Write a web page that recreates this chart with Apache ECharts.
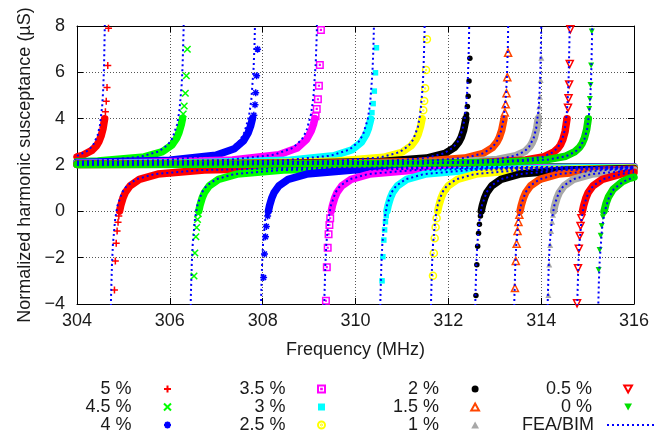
<!DOCTYPE html>
<html><head><meta charset="utf-8">
<script src="https://cdn.jsdelivr.net/npm/echarts@6/dist/echarts.min.js"></script>
<style>html,body{margin:0;padding:0;background:#fff}#c{width:662px;height:436px}</style>
</head><body><div id="c"></div>
<script>
// ---------------- data (frequency MHz, normalized susceptance µS) ----------------
const labels = ['5 %','4.5 %','4 %','3.5 %','3 %','2.5 %','2 %','1.5 %','1 %','0.5 %','0 %'];
const feaLabel = 'FEA/BIM';
const xTicks = [304,306,308,310,312,314,316];
const yTicks = [-4,-2,0,2,4,6,8];

// measured, branch below (L) and above (R) each resonance
const s50L = [[304.000,2.35],[304.122,2.42],[304.322,2.63],[304.422,2.84],[304.472,3.01],[304.522,3.27],[304.560,3.56],[304.596,4.00],[304.612,4.30],[304.630,4.75],[304.647,5.35],[304.663,6.30],[304.679,7.90]];
const s50R = [[304.807,-3.40],[304.826,-2.14],[304.845,-1.38],[304.864,-0.85],[304.884,-0.47],[304.901,-0.20],[304.918,0.01],[304.943,0.25],[304.993,0.59],[305.043,0.82],[305.143,1.10],[305.343,1.38],[305.743,1.61],[306.743,1.78],[308.743,1.87],[312.743,1.91],[316.000,1.92]];
const s45L = [[304.000,2.14],[304.447,2.17],[305.447,2.35],[305.847,2.58],[306.047,2.87],[306.147,3.16],[306.197,3.40],[306.247,3.75],[306.272,4.00],[306.288,4.20],[306.310,4.55],[306.334,5.10],[306.356,5.85],[306.377,7.00]];
const s45R = [[306.521,-2.79],[306.540,-1.80],[306.561,-1.10],[306.577,-0.70],[306.597,-0.35],[306.612,-0.10],[306.624,0.01],[306.649,0.25],[306.699,0.59],[306.749,0.82],[306.849,1.10],[307.049,1.38],[307.449,1.61],[308.449,1.78],[310.449,1.87],[314.449,1.91],[316.000,1.91]];
const s40L = [[304.000,2.11],[305.990,2.21],[306.990,2.42],[307.390,2.70],[307.590,3.05],[307.690,3.40],[307.740,3.68],[307.780,4.00],[307.810,4.15],[307.835,4.60],[307.850,5.12],[307.870,5.85],[307.890,7.00]];
const s40R = [[308.020,-2.86],[308.039,-1.84],[308.061,-1.10],[308.080,-0.65],[308.107,-0.20],[308.124,0.01],[308.149,0.25],[308.199,0.59],[308.249,0.82],[308.349,1.10],[308.549,1.38],[308.949,1.61],[309.949,1.78],[311.949,1.87],[316.000,1.91]];
const s35L = [[304.000,2.08],[305.345,2.11],[307.345,2.22],[308.345,2.44],[308.745,2.73],[308.945,3.10],[309.045,3.47],[309.095,3.76],[309.125,4.00],[309.140,4.10],[309.165,4.42],[309.190,4.84],[309.212,5.42],[309.232,6.32],[309.255,7.83]];
const s35R = [[309.363,-3.86],[309.382,-2.41],[309.401,-1.57],[309.420,-0.99],[309.438,-0.59],[309.455,-0.30],[309.479,0.01],[309.504,0.25],[309.554,0.59],[309.604,0.82],[309.704,1.10],[309.904,1.38],[310.304,1.61],[311.304,1.78],[313.304,1.87],[316.000,1.90]];
const s30L = [[304.000,2.06],[306.529,2.10],[308.529,2.20],[309.529,2.40],[309.929,2.66],[310.129,2.99],[310.229,3.32],[310.279,3.58],[310.329,3.98],[310.354,4.26],[310.380,4.65],[310.405,5.19],[310.430,5.98],[310.451,7.06]];
const s30R = [[310.572,-3.00],[310.590,-1.96],[310.610,-1.24],[310.627,-0.80],[310.645,-0.45],[310.662,-0.19],[310.678,0.01],[310.703,0.25],[310.753,0.59],[310.803,0.82],[310.903,1.10],[311.103,1.38],[311.503,1.61],[312.503,1.78],[314.503,1.87],[316.000,1.89]];
const s25L = [[304.000,2.04],[307.600,2.08],[309.600,2.17],[310.600,2.33],[311.000,2.55],[311.200,2.83],[311.300,3.10],[311.350,3.32],[311.400,3.65],[311.435,4.00],[311.460,4.36],[311.480,4.76],[311.500,5.31],[311.520,6.10],[311.539,7.43]];
const s25R = [[311.669,-2.78],[311.687,-1.81],[311.706,-1.16],[311.726,-0.69],[311.748,-0.30],[311.772,0.01],[311.797,0.25],[311.847,0.59],[311.897,0.82],[311.997,1.10],[312.197,1.38],[312.597,1.61],[313.597,1.78],[316.000,1.87]];
const s20L = [[304.000,2.04],[308.529,2.08],[310.529,2.15],[311.529,2.30],[311.929,2.50],[312.129,2.75],[312.229,3.00],[312.279,3.20],[312.329,3.50],[312.379,4.00],[312.392,4.19],[312.410,4.52],[312.428,4.97],[312.446,5.63],[312.464,6.61]];
const s20R = [[312.595,-3.63],[312.614,-2.31],[312.632,-1.51],[312.651,-0.95],[312.670,-0.56],[312.692,-0.20],[312.709,0.01],[312.734,0.25],[312.784,0.59],[312.834,0.82],[312.934,1.10],[313.134,1.38],[313.534,1.61],[314.534,1.78],[316.000,1.85]];
const s15L = [[304.000,2.03],[305.350,2.04],[309.350,2.08],[311.350,2.15],[312.350,2.30],[312.750,2.50],[312.950,2.75],[313.050,3.00],[313.100,3.20],[313.150,3.50],[313.200,4.00],[313.218,4.27],[313.236,4.62],[313.253,5.10],[313.271,5.79],[313.288,6.85]];
const s15R = [[313.435,-3.31],[313.453,-2.14],[313.472,-1.40],[313.491,-0.85],[313.511,-0.46],[313.530,-0.15],[313.545,0.01],[313.570,0.25],[313.620,0.59],[313.670,0.82],[313.770,1.10],[313.970,1.38],[314.370,1.61],[315.370,1.78],[316.000,1.82]];
const s10L = [[304.000,2.02],[306.054,2.03],[310.054,2.06],[312.054,2.12],[313.054,2.24],[313.454,2.40],[313.654,2.59],[313.754,2.79],[313.804,2.95],[313.854,3.19],[313.904,3.58],[313.936,4.00],[313.949,4.25],[313.960,4.52],[313.974,4.95],[313.989,5.67],[314.003,6.63]];
const s10R = [[314.155,-3.61],[314.174,-2.30],[314.194,-1.45],[314.215,-0.85],[314.236,-0.45],[314.255,-0.15],[314.269,0.01],[314.294,0.25],[314.344,0.59],[314.394,0.82],[314.494,1.10],[314.694,1.38],[315.094,1.61],[316.000,1.77]];
const s05L = [[304.000,2.02],[306.666,2.03],[310.666,2.06],[312.666,2.11],[313.666,2.22],[314.066,2.36],[314.266,2.55],[314.366,2.73],[314.416,2.87],[314.466,3.09],[314.516,3.45],[314.557,4.00],[314.578,4.47],[314.590,4.88],[314.603,5.48],[314.616,6.36],[314.629,7.86]];
const s05R = [[314.773,-3.97],[314.793,-2.46],[314.811,-1.62],[314.829,-1.06],[314.848,-0.63],[314.867,-0.30],[314.891,0.01],[314.916,0.25],[314.966,0.59],[315.016,0.82],[315.116,1.10],[315.316,1.38],[315.716,1.61],[316.000,1.69]];
const s00L = [[304.000,2.02],[307.130,2.03],[311.130,2.06],[313.130,2.12],[314.130,2.23],[314.530,2.38],[314.730,2.58],[314.830,2.77],[314.880,2.92],[314.930,3.15],[314.980,3.53],[315.015,4.00],[315.035,4.42],[315.049,4.85],[315.063,5.45],[315.076,6.29],[315.090,7.76]];
const s00R = [[315.238,-2.53],[315.260,-1.67],[315.282,-1.05],[315.304,-0.63],[315.331,-0.25],[315.354,0.00],[315.399,0.35],[315.449,0.62],[315.549,0.95],[315.749,1.28],[315.899,1.42],[316.000,1.48]];

// FEA/BIM curves
const e50L = [[304.000,2.39],[304.242,2.63],[304.342,2.84],[304.442,3.27],[304.492,3.69],[304.542,4.53],[304.562,5.16],[304.582,6.22],[304.602,8.33],[304.617,12.12],[304.627,18.87]];
const e50R = [[304.688,-20.7],[304.698,-11.65],[304.713,-6.55],[304.733,-3.72],[304.753,-2.30],[304.773,-1.45],[304.823,-0.32],[304.873,0.25],[304.973,0.82],[305.073,1.10],[305.273,1.38],[305.673,1.61],[306.673,1.78],[308.673,1.87],[312.673,1.91],[316.000,1.92]];
const e45L = [[304.000,2.15],[304.356,2.17],[305.356,2.35],[305.756,2.58],[305.956,2.87],[306.056,3.16],[306.156,3.75],[306.206,4.33],[306.256,5.49],[306.276,6.36],[306.296,7.82],[306.316,10.73],[306.331,15.96]];
const e45R = [[306.407,-20.7],[306.417,-11.65],[306.432,-6.55],[306.452,-3.72],[306.472,-2.30],[306.492,-1.45],[306.542,-0.32],[306.592,0.25],[306.692,0.82],[306.792,1.10],[306.992,1.38],[307.392,1.61],[308.392,1.78],[310.392,1.87],[314.392,1.91],[316.000,1.91]];
const e40L = [[304.000,2.11],[305.905,2.21],[306.905,2.42],[307.305,2.70],[307.505,3.05],[307.605,3.40],[307.705,4.10],[307.755,4.80],[307.805,6.20],[307.825,7.25],[307.845,9.00],[307.865,12.50]];
const e40R = [[307.922,-20.7],[307.932,-11.65],[307.947,-6.55],[307.967,-3.72],[307.987,-2.30],[308.007,-1.45],[308.057,-0.32],[308.107,0.25],[308.207,0.82],[308.307,1.10],[308.507,1.38],[308.907,1.61],[309.907,1.78],[311.907,1.87],[316.000,1.91]];
const e35L = [[304.000,2.08],[305.243,2.11],[307.243,2.22],[308.243,2.44],[308.643,2.73],[308.843,3.10],[308.943,3.47],[309.043,4.20],[309.093,4.93],[309.143,6.40],[309.163,7.50],[309.183,9.33],[309.203,13.00]];
const e35R = [[309.285,-20.7],[309.295,-11.65],[309.310,-6.55],[309.330,-3.72],[309.350,-2.30],[309.370,-1.45],[309.420,-0.32],[309.470,0.25],[309.570,0.82],[309.670,1.10],[309.870,1.38],[310.270,1.61],[311.270,1.78],[313.270,1.87],[316.000,1.90]];
const e30L = [[304.000,2.06],[306.464,2.10],[308.464,2.20],[309.464,2.40],[309.864,2.66],[310.064,2.99],[310.164,3.32],[310.264,3.98],[310.314,4.63],[310.364,5.95],[310.384,6.94],[310.404,8.58],[310.424,11.90]];
const e30R = [[310.492,-20.7],[310.502,-11.65],[310.517,-6.55],[310.537,-3.72],[310.557,-2.30],[310.577,-1.45],[310.627,-0.32],[310.677,0.25],[310.777,0.82],[310.877,1.10],[311.077,1.38],[311.477,1.61],[312.477,1.78],[314.477,1.87],[316.000,1.89]];
const e25L = [[304.000,2.04],[307.545,2.08],[309.545,2.17],[310.545,2.33],[310.945,2.55],[311.145,2.83],[311.245,3.10],[311.345,3.65],[311.395,4.20],[311.445,5.30],[311.465,6.13],[311.485,7.50],[311.505,10.25],[311.520,15.20]];
const e25R = [[311.584,-20.7],[311.594,-11.65],[311.609,-6.55],[311.629,-3.72],[311.649,-2.30],[311.669,-1.45],[311.719,-0.32],[311.769,0.25],[311.869,0.82],[311.969,1.10],[312.169,1.38],[312.569,1.61],[313.569,1.78],[316.000,1.87]];
const e20L = [[304.000,2.04],[308.501,2.08],[310.501,2.15],[311.501,2.30],[311.901,2.50],[312.101,2.75],[312.201,3.00],[312.301,3.50],[312.351,4.00],[312.401,5.00],[312.421,5.75],[312.441,7.00],[312.461,9.50],[312.476,14.00]];
const e20R = [[312.538,-20.7],[312.548,-11.65],[312.563,-6.55],[312.583,-3.72],[312.603,-2.30],[312.623,-1.45],[312.673,-0.32],[312.723,0.25],[312.823,0.82],[312.923,1.10],[313.123,1.38],[313.523,1.61],[314.523,1.78],[316.000,1.85]];
const e15L = [[304.000,2.03],[305.341,2.04],[309.341,2.08],[311.341,2.15],[312.341,2.30],[312.741,2.50],[312.941,2.75],[313.041,3.00],[313.141,3.50],[313.191,4.00],[313.241,5.00],[313.261,5.75],[313.281,7.00],[313.301,9.50],[313.316,14.00]];
const e15R = [[313.378,-20.7],[313.388,-11.65],[313.403,-6.55],[313.423,-3.72],[313.443,-2.30],[313.463,-1.45],[313.513,-0.32],[313.563,0.25],[313.663,0.82],[313.763,1.10],[313.963,1.38],[314.363,1.61],[315.363,1.78],[316.000,1.82]];
const e10L = [[304.000,2.02],[306.042,2.03],[310.042,2.06],[312.042,2.12],[313.042,2.24],[313.442,2.40],[313.642,2.59],[313.742,2.79],[313.842,3.19],[313.892,3.58],[313.942,4.37],[313.962,4.96],[313.982,5.95],[314.002,7.93],[314.017,11.48],[314.027,17.80]];
const e10R = [[314.098,-20.7],[314.108,-11.65],[314.123,-6.55],[314.143,-3.72],[314.163,-2.30],[314.183,-1.45],[314.233,-0.32],[314.283,0.25],[314.383,0.82],[314.483,1.10],[314.683,1.38],[315.083,1.61],[316.000,1.77]];
const e05L = [[304.000,2.02],[306.650,2.03],[310.650,2.06],[312.650,2.11],[313.650,2.22],[314.050,2.36],[314.250,2.55],[314.350,2.73],[314.450,3.09],[314.500,3.45],[314.550,4.18],[314.570,4.73],[314.590,5.63],[314.610,7.45],[314.625,10.72],[314.635,16.50]];
const e05R = [[314.736,-20.7],[314.746,-11.65],[314.761,-6.55],[314.781,-3.72],[314.801,-2.30],[314.821,-1.45],[314.871,-0.32],[314.921,0.25],[315.021,0.82],[315.121,1.10],[315.321,1.38],[315.721,1.61],[316.000,1.68]];
const e00L = [[304.000,2.02],[307.138,2.03],[311.138,2.06],[313.138,2.12],[314.138,2.23],[314.538,2.38],[314.738,2.58],[314.838,2.77],[314.938,3.15],[314.988,3.53],[315.038,4.30],[315.058,4.88],[315.078,5.83],[315.098,7.75],[315.113,11.20],[315.123,17.30]];
const e00R = [[315.178,-24.7],[315.188,-14.05],[315.203,-8.05],[315.223,-4.72],[315.243,-3.05],[315.263,-2.05],[315.313,-0.72],[315.363,-0.05],[315.463,0.62],[315.563,0.95],[315.763,1.28],[316.000,1.47]];

// ---------------- styles ----------------
const FONT = '"Liberation Sans", Arial, Helvetica, sans-serif';
const TXT = '#1a1a1a';
const colors = ['#ff0000','#00ff00','#0000ff','#ff00ff','#00ffff','#ffff00','#000000','#ff4500','#a8a8a8','#ff0000','#00e000'];
const SYM = {
  plus:'path://M0,5L10,5M5,0L5,10',
  cross:'path://M0,0L10,10M10,0L0,10',
  star:'path://M0,5L10,5M5,0L5,10M1.5,1.5L8.5,8.5M8.5,1.5L1.5,8.5',
  sqdot:'path://M0,0L10,0L10,10L0,10ZM4.5,4.5L5.5,4.5L5.5,5.5L4.5,5.5Z',
  square:'path://M0,0L10,0L10,10L0,10Z',
  circdot:'path://M10,5A5,5,0,1,1,0,5A5,5,0,1,1,10,5ZM5.6,5A0.6,0.6,0,1,1,4.4,5A0.6,0.6,0,1,1,5.6,5Z',
  circle:'path://M10,5A5,5,0,1,1,0,5A5,5,0,1,1,10,5Z',
  tri:'path://M5,0L10,9L0,9Z',
  dtri:'path://M0,0L10,0L5,9Z'
};
const symbols = [SYM.plus,SYM.cross,SYM.star,SYM.sqdot,SYM.square,SYM.circdot,SYM.circle,SYM.tri,SYM.tri,SYM.dtri,SYM.dtri];
const sizes   = [7,6.5,7,6.5,5.5,7,5.5,7,6,7,6];
const hollow  = [false,false,false,true,false,true,false,true,false,true,false];
const strokeW = [1.5,1.5,1.5,1.5,0,1.5,0,1.5,0,1.5,0];

const measured = [[s50L,s50R],[s45L,s45R],[s40L,s40R],[s35L,s35R],[s30L,s30R],[s25L,s25R],[s20L,s20R],[s15L,s15R],[s10L,s10R],[s05L,s05R],[s00L,s00R]];
const fea = [[e50L,e50R],[e45L,e45R],[e40L,e40R],[e35L,e35R],[e30L,e30R],[e25L,e25R],[e20L,e20R],[e15L,e15R],[e10L,e10R],[e05L,e05R],[e00L,e00R]];

const series = [];
labels.forEach((name, i) => {
  const [L, R] = measured[i];
  // isolated markers near the resonance; the dense flat parts are drawn as a thick band
  series.push({
    type:'scatter', name, data: L.filter(p => p[1] > 4.05).concat(R.filter(p => p[1] < -0.05)),
    symbol: symbols[i], symbolSize: sizes[i],
    itemStyle:{color: hollow[i] ? 'rgba(0,0,0,0)' : colors[i], borderColor: colors[i], borderWidth: strokeW[i], opacity:1},
    silent:true, z:2
  });
  const bandStyle = {color: colors[i], width: 7.5, cap:'round', join:'round'};
  series.push({type:'line', name, data: L.filter(p => p[1] <= 4.05), symbol:'none', showSymbol:false, lineStyle: bandStyle, silent:true, z:2});
  series.push({type:'line', name, data: R.filter(p => p[1] >= -0.05), symbol:'none', showSymbol:false, lineStyle: bandStyle, silent:true, z:2});
});
fea.forEach(([L, R]) => {
  [L, R].forEach(d => series.push({
    type:'line', name: feaLabel, data: d, symbol:'none', showSymbol:false,
    lineStyle:{color:'#0000ff', width:2, type:[2,3]}, silent:true, z:3
  }));
});

const legendCommon = {
  orient:'vertical', align:'right', itemWidth:62, itemHeight:7, itemGap:0, padding:0,
  selectedMode:false, textStyle:{fontSize:18, color:TXT, fontFamily:FONT}
};
const fmtY = v => v < 0 ? '\u2212' + (-v) : String(v);
const axisBase = {
  axisLine:{show:true, onZero:false, lineStyle:{color:'#000', width:1}},
  axisTick:{show:true, inside:true, length:6, lineStyle:{color:'#000', width:1}}
};

const chart = echarts.init(document.getElementById('c'), null, {renderer:'canvas'});
chart.setOption({
  animation:false,
  backgroundColor:'#ffffff',
  textStyle:{fontFamily:FONT},
  grid:{left:77, right:28, top:26, bottom:132, outerBoundsMode:'none', containLabel:false},
  xAxis:[
    Object.assign({type:'value', min:xTicks[0], max:xTicks[xTicks.length-1], interval:2, position:'bottom',
      axisLabel:{show:true, fontSize:18, color:TXT, margin:8, fontFamily:FONT},
      splitLine:{show:true, lineStyle:{color:'#555', width:1, type:[1,2]}},
      name:'Frequency (MHz)', nameLocation:'middle', nameGap:37,
      nameTextStyle:{fontSize:18, color:TXT, fontFamily:FONT}}, axisBase),
    Object.assign({type:'value', min:xTicks[0], max:xTicks[xTicks.length-1], interval:2, position:'top',
      axisLabel:{show:false}, splitLine:{show:false}}, axisBase)
  ],
  yAxis:[
    Object.assign({type:'value', min:yTicks[0], max:yTicks[yTicks.length-1], interval:2, position:'left',
      axisLabel:{show:true, fontSize:18, color:TXT, margin:12, fontFamily:FONT, formatter:fmtY},
      splitLine:{show:true, lineStyle:{color:'#555', width:1, type:[1,2]}},
      name:'Normalized harmonic susceptance (\u00b5S)', nameLocation:'middle', nameGap:43, nameRotate:90,
      nameTextStyle:{fontSize:18, color:TXT, fontFamily:FONT}}, axisBase),
    Object.assign({type:'value', min:yTicks[0], max:yTicks[yTicks.length-1], interval:2, position:'right',
      axisLabel:{show:false}, splitLine:{show:false}}, axisBase)
  ],
  legend:[
    Object.assign({}, legendCommon, {data:labels.slice(0,3), right:490, top:380}),
    Object.assign({}, legendCommon, {data:labels.slice(3,6), right:336, top:380}),
    Object.assign({}, legendCommon, {data:labels.slice(6,9), right:182, top:380}),
    Object.assign({}, legendCommon, {data:labels.slice(9,11), right:29, top:380}),
    Object.assign({}, legendCommon, {
      data:[{name:feaLabel, itemStyle:{color:'rgba(0,0,0,0)', borderColor:'rgba(0,0,0,0)', borderWidth:0, opacity:0}}],
      right:6, top:416, itemWidth:48,
      lineStyle:{color:'#0000ff', width:2, type:[2,3]},
      textStyle:{fontSize:18, color:TXT, fontFamily:FONT, padding:[0,8,0,0]}
    })
  ],
  series
});
</script>
</body></html>
